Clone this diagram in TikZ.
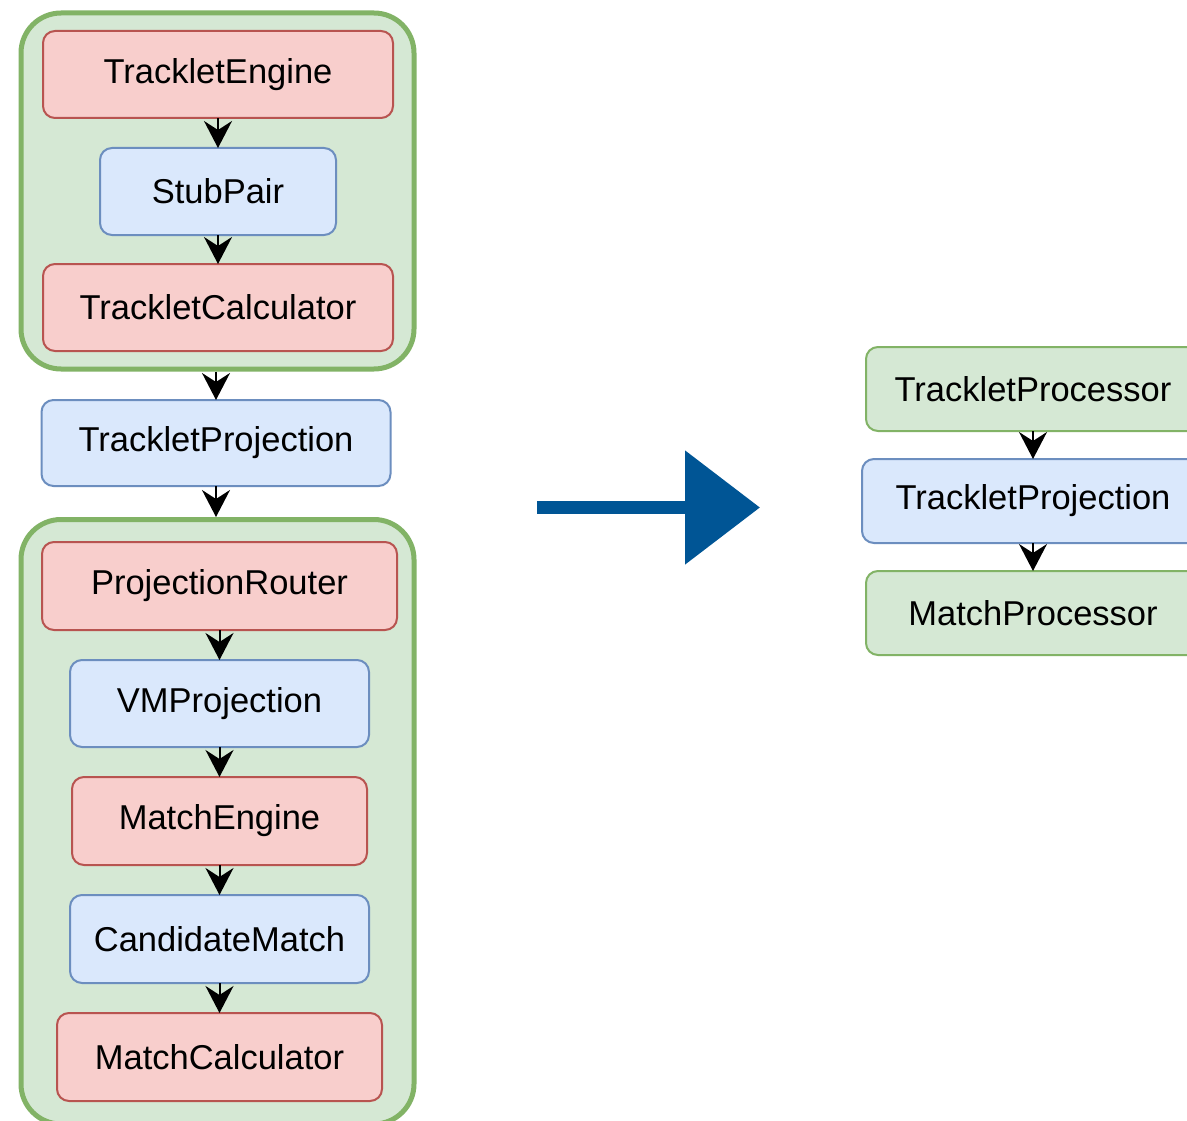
\documentclass[tikz,border=0pt]{standalone}
\usepackage{fontspec}
\setmainfont{Liberation Sans}
\usetikzlibrary{arrows.meta}
\definecolor{redfill}{HTML}{F8CECC}
\definecolor{redline}{HTML}{B85450}
\definecolor{bluefill}{HTML}{DAE8FC}
\definecolor{blueline}{HTML}{6C8EBF}
\definecolor{greenfill}{HTML}{D5E8D4}
\definecolor{greenline}{HTML}{82B366}
\definecolor{bigblue}{HTML}{005595}
\begin{document}
\begin{tikzpicture}[x=1pt,y=-1pt,
  box/.style={rectangle, rounded corners=12pt, line width=2pt, outer sep=0pt, inner sep=0pt,
    font=\fontsize{34.5}{40}\selectfont, text=black},
  redbox/.style={box, fill=redfill, draw=redline},
  bluebox/.style={box, fill=bluefill, draw=blueline},
  greenbox/.style={box, fill=greenfill, draw=greenline},
  group/.style={rectangle, rounded corners=40pt, line width=5pt, fill=greenfill, draw=greenline, outer sep=2.5pt, inner sep=0pt},
  conn/.style={line width=2pt, -{Stealth[length=27pt,width=28pt,inset=9pt]}},
]
\path[use as bounding box, clip] (0,0) rectangle (1187,1121);
\fill[white] (0,0) rectangle (1187,1121);
% groups
\node[group, minimum width=393pt, minimum height=356pt] (g1) at (217.5,191) {};
\node[group, minimum width=393pt, minimum height=604.5pt] (g2) at (217.5,821.75) {};
% left column
\node[redbox, minimum width=350pt, minimum height=87pt] (te) at (218,74.5) {TrackletEngine};
\node[bluebox, minimum width=236pt, minimum height=87pt] (sp) at (218,191.5) {StubPair};
\node[redbox, minimum width=350pt, minimum height=87pt] (tc) at (218,307.5) {TrackletCalculator};
\node[bluebox, minimum width=349pt, minimum height=86pt] (tp) at (216,443) {TrackletProjection};
\node[redbox, minimum width=355pt, minimum height=88pt] (pr) at (219.5,586) {ProjectionRouter};
\node[bluebox, minimum width=299pt, minimum height=87pt] (vm) at (219.5,703.5) {VMProjection};
\node[redbox, minimum width=295pt, minimum height=88pt] (me) at (219.5,821) {MatchEngine};
\node[bluebox, minimum width=299pt, minimum height=88pt] (cm) at (219.5,939) {CandidateMatch};
\node[redbox, minimum width=325pt, minimum height=88pt] (mc) at (219.5,1057) {MatchCalculator};
% right column
\node[greenbox, minimum width=334pt, minimum height=84pt] (rp) at (1033,389) {TrackletProcessor};
\node[bluebox, minimum width=342pt, minimum height=84pt] (rtp) at (1033,501) {TrackletProjection};
\node[greenbox, minimum width=334pt, minimum height=84pt] (rmp) at (1033,613) {MatchProcessor};
% connectors
\draw[conn] (te.south) -- (sp.north);
\draw[conn] (sp.south) -- (tc.north);
\draw[conn] (g1.south -| tp.north) -- (tp.north);
\draw[conn] (tp.south) -- (tp.south |- g2.north);
\draw[conn] (pr.south) -- (vm.north);
\draw[conn] (vm.south) -- (me.north);
\draw[conn] (me.south) -- (cm.north);
\draw[conn] (cm.south) -- (mc.north);
\draw[conn] (rp.south) -- (rtp.north);
\draw[conn] (rtp.south) -- (rmp.north);
% big arrow
\coordinate (bigs) at (537,507.5);
\coordinate (bige) at (760,507.5);
\draw[bigblue, line width=13pt, -{Triangle[length=75pt,width=111pt]}] (bigs) -- (bige);
\end{tikzpicture}
\end{document}
